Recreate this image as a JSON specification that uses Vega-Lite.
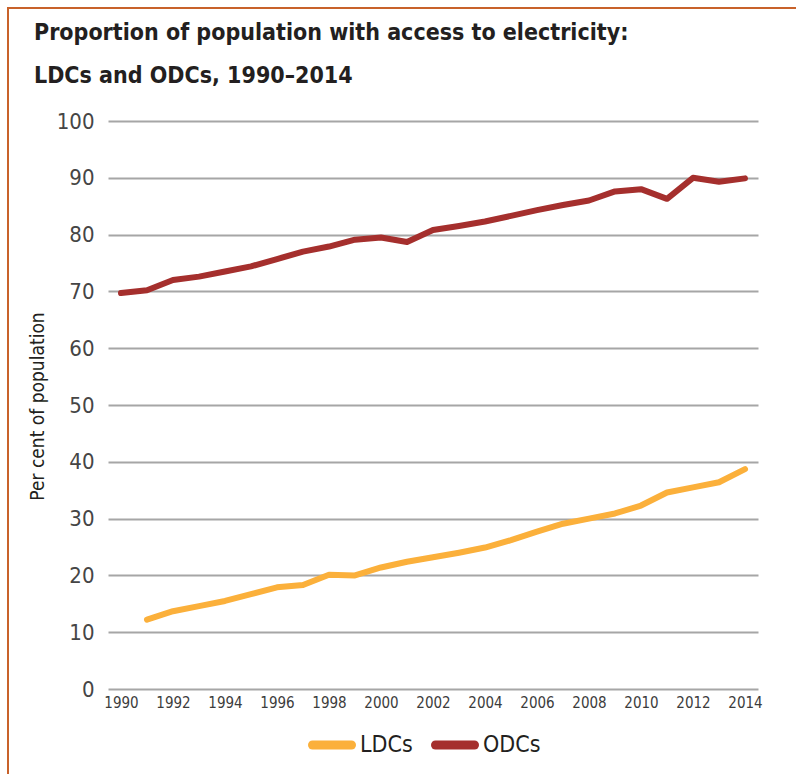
{
  "$schema": "https://vega.github.io/schema/vega-lite/v6.json",
  "autosize": {"type": "none"},
  "width": 790,
  "height": 768,
  "padding": {"left": 8, "top": 8, "right": -2, "bottom": -2},
  "background": "white",
  "config": {
    "view": {"stroke": "#C8622A", "strokeWidth": 2},
    "font": "'DejaVu Sans Condensed', 'Liberation Sans', sans-serif"
  },
  "title": {
    "text": ["Proportion of population with access to electricity:", "LDCs and ODCs, 1990–2014"],
    "anchor": "start",
    "frame": "group",
    "orient": "top",
    "baseline": "top",
    "offset": -80,
    "dx": 26,
    "lineHeight": 43,
    "font": "'DejaVu Sans Condensed', 'Liberation Sans', sans-serif",
    "fontSize": 23,
    "fontWeight": "bold",
    "color": "#231F20"
  },
  "data": {
    "values": [
      {"year": 1990, "group": "ODCs", "value": 69.7},
      {"year": 1991, "group": "ODCs", "value": 70.2},
      {"year": 1992, "group": "ODCs", "value": 72.0},
      {"year": 1993, "group": "ODCs", "value": 72.6},
      {"year": 1994, "group": "ODCs", "value": 73.5},
      {"year": 1995, "group": "ODCs", "value": 74.4},
      {"year": 1996, "group": "ODCs", "value": 75.7},
      {"year": 1997, "group": "ODCs", "value": 77.0},
      {"year": 1998, "group": "ODCs", "value": 77.9},
      {"year": 1999, "group": "ODCs", "value": 79.1},
      {"year": 2000, "group": "ODCs", "value": 79.5},
      {"year": 2001, "group": "ODCs", "value": 78.7},
      {"year": 2002, "group": "ODCs", "value": 80.8},
      {"year": 2003, "group": "ODCs", "value": 81.5},
      {"year": 2004, "group": "ODCs", "value": 82.3},
      {"year": 2005, "group": "ODCs", "value": 83.3},
      {"year": 2006, "group": "ODCs", "value": 84.3},
      {"year": 2007, "group": "ODCs", "value": 85.2},
      {"year": 2008, "group": "ODCs", "value": 86.0},
      {"year": 2009, "group": "ODCs", "value": 87.6},
      {"year": 2010, "group": "ODCs", "value": 88.0},
      {"year": 2011, "group": "ODCs", "value": 86.3},
      {"year": 2012, "group": "ODCs", "value": 90.0},
      {"year": 2013, "group": "ODCs", "value": 89.3},
      {"year": 2014, "group": "ODCs", "value": 89.9},
      {"year": 1991, "group": "LDCs", "value": 12.2},
      {"year": 1992, "group": "LDCs", "value": 13.7},
      {"year": 1993, "group": "LDCs", "value": 14.6},
      {"year": 1994, "group": "LDCs", "value": 15.5},
      {"year": 1995, "group": "LDCs", "value": 16.7},
      {"year": 1996, "group": "LDCs", "value": 17.9},
      {"year": 1997, "group": "LDCs", "value": 18.3},
      {"year": 1998, "group": "LDCs", "value": 20.1},
      {"year": 1999, "group": "LDCs", "value": 20.0},
      {"year": 2000, "group": "LDCs", "value": 21.4},
      {"year": 2001, "group": "LDCs", "value": 22.4},
      {"year": 2002, "group": "LDCs", "value": 23.2},
      {"year": 2003, "group": "LDCs", "value": 24.0},
      {"year": 2004, "group": "LDCs", "value": 24.9},
      {"year": 2005, "group": "LDCs", "value": 26.2},
      {"year": 2006, "group": "LDCs", "value": 27.7},
      {"year": 2007, "group": "LDCs", "value": 29.1},
      {"year": 2008, "group": "LDCs", "value": 30.0},
      {"year": 2009, "group": "LDCs", "value": 30.9},
      {"year": 2010, "group": "LDCs", "value": 32.3},
      {"year": 2011, "group": "LDCs", "value": 34.6},
      {"year": 2012, "group": "LDCs", "value": 35.5},
      {"year": 2013, "group": "LDCs", "value": 36.4},
      {"year": 2014, "group": "LDCs", "value": 38.7}
    ]
  },
  "mark": {"type": "line", "strokeWidth": 6, "strokeCap": "round", "strokeJoin": "round"},
  "encoding": {
    "x": {
      "field": "year",
      "type": "quantitative",
      "scale": {"domain": [1989.5, 2014.5], "range": [100, 750], "nice": false, "zero": false},
      "axis": {
        "orient": "bottom",
        "offset": -87,
        "values": [1990, 1992, 1994, 1996, 1998, 2000, 2002, 2004, 2006, 2008, 2010, 2012, 2014],
        "format": "d",
        "grid": false,
        "domain": false,
        "ticks": false,
        "labelPadding": 6,
        "labelBaseline": "top",
        "labelFlush": false,
        "labelFont": "'DejaVu Sans Condensed', 'Liberation Sans', sans-serif",
        "labelFontSize": 15,
        "labelColor": "#3C3C3C",
        "title": null
      }
    },
    "y": {
      "field": "value",
      "type": "quantitative",
      "scale": {"domain": [0, 100], "range": [681, 113], "nice": false},
      "axis": {
        "orient": "left",
        "values": [0, 10, 20, 30, 40, 50, 60, 70, 80, 90, 100],
        "grid": true,
        "gridColor": "#A6A6A6",
        "gridWidth": 2,
        "domain": false,
        "ticks": false,
        "labelPadding": -86,
        "labelAlign": "right",
        "labelBaseline": "middle",
        "labelFont": "'DejaVu Sans Condensed', 'Liberation Sans', sans-serif",
        "labelFontSize": 22,
        "labelColor": "#454545",
        "title": "Per cent of population",
        "titleFont": "'DejaVu Sans Condensed', 'Liberation Sans', sans-serif",
        "titleFontSize": 19,
        "titleFontWeight": "normal",
        "titleColor": "#231F20",
        "titleAngle": -90,
        "titleAlign": "center",
        "titleBaseline": "middle",
        "titleX": 29,
        "titleY": 398
      }
    },
    "color": {
      "field": "group",
      "type": "nominal",
      "scale": {"domain": ["LDCs", "ODCs"], "range": ["#FBB03B", "#A52F2D"]},
      "legend": {
        "orient": "none",
        "legendX": 300,
        "legendY": 713,
        "direction": "horizontal",
        "title": null,
        "symbolType": "stroke",
        "symbolSize": 1521,
        "symbolStrokeWidth": 9,
        "labelFont": "'DejaVu Sans Condensed', 'Liberation Sans', sans-serif",
        "labelFontSize": 23,
        "labelColor": "#231F20",
        "labelOffset": 4,
        "columnPadding": 4,
        "encode": {"symbols": {"update": {"strokeCap": {"value": "round"}}}}
      }
    }
  }
}
